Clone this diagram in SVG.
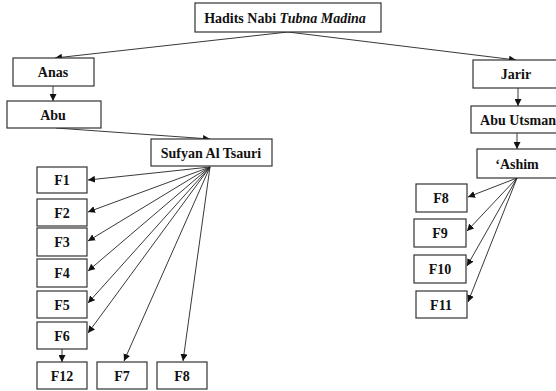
<svg xmlns="http://www.w3.org/2000/svg" width="556" height="391" viewBox="0 0 556 391">
<defs>
<marker id="ah" viewBox="0 0 10 10" refX="10" refY="5" markerWidth="7" markerHeight="7" markerUnits="userSpaceOnUse" orient="auto">
<path d="M0,0 L10,5 L0,10 z" fill="#111"/>
</marker>
<style>
.box{fill:#fff;stroke:#333;stroke-width:1.2}
.t{font-family:"Liberation Serif","Times New Roman",serif;font-weight:bold;font-size:14px;fill:#111;text-anchor:middle}
.c line{stroke:#222;stroke-width:0.9;marker-end:url(#ah)}
</style>
</defs>
<rect width="556" height="391" fill="#fff"/>
<g class="c">
<line x1="288" y1="32" x2="55" y2="58"/>
<line x1="288" y1="32" x2="516" y2="60"/>
<line x1="53" y1="86" x2="53" y2="101"/>
<line x1="56" y1="128" x2="210" y2="139"/>
<line x1="210" y1="167" x2="88" y2="180"/>
<line x1="210" y1="167" x2="88" y2="212"/>
<line x1="210" y1="167" x2="88" y2="241"/>
<line x1="210" y1="167" x2="88" y2="271"/>
<line x1="210" y1="167" x2="88" y2="303"/>
<line x1="210" y1="167" x2="88" y2="333"/>
<line x1="210" y1="167" x2="124" y2="361"/>
<line x1="210" y1="167" x2="183" y2="361"/>
<line x1="62" y1="349" x2="62" y2="362"/>
<line x1="518" y1="88" x2="518" y2="106"/>
<line x1="517" y1="133" x2="517" y2="149"/>
<line x1="517" y1="178" x2="468" y2="197"/>
<line x1="517" y1="178" x2="467" y2="231"/>
<line x1="517" y1="178" x2="467" y2="266"/>
<line x1="517" y1="178" x2="468" y2="302"/>
</g>
<g id="hadits"><rect class="box" x="195" y="3" width="186" height="29"/><text class="t" x="285" y="22.5">Hadits Nabi <tspan font-style="italic">Tubna Madina</tspan></text></g>
<g id="anas"><rect class="box" x="13" y="58" width="81" height="28"/><text class="t" x="53" y="77">Anas</text></g>
<g id="abu"><rect class="box" x="7" y="101" width="94" height="27"/><text class="t" x="53" y="119.5">Abu</text></g>
<g id="sufyan"><rect class="box" x="151" y="139" width="121" height="27"/><text class="t" x="211" y="157.5">Sufyan Al Tsauri</text></g>
<g id="f1"><rect class="box" x="37" y="167" width="50" height="26"/><text class="t" x="62" y="185">F1</text></g>
<g id="f2"><rect class="box" x="37" y="199" width="50" height="27"/><text class="t" x="62" y="217.5">F2</text></g>
<g id="f3"><rect class="box" x="37" y="228" width="50" height="28"/><text class="t" x="62" y="247">F3</text></g>
<g id="f4"><rect class="box" x="37" y="259" width="50" height="28"/><text class="t" x="62" y="278">F4</text></g>
<g id="f5"><rect class="box" x="37" y="291" width="50" height="27"/><text class="t" x="62" y="309.5">F5</text></g>
<g id="f6"><rect class="box" x="37" y="322" width="50" height="27"/><text class="t" x="62" y="340.5">F6</text></g>
<g id="f12"><rect class="box" x="37" y="362" width="50" height="27"/><text class="t" x="62" y="380.5">F12</text></g>
<g id="f7"><rect class="box" x="97" y="362" width="50" height="27"/><text class="t" x="122" y="380.5">F7</text></g>
<g id="f8a"><rect class="box" x="157" y="362" width="50" height="27"/><text class="t" x="182" y="380.5">F8</text></g>
<g id="jarir"><rect class="box" x="473" y="60" width="88" height="28"/><text class="t" x="516" y="79">Jarir</text></g>
<g id="abuutsman"><rect class="box" x="471" y="106" width="94" height="27"/><text class="t" x="518" y="124.5">Abu Utsman</text></g>
<g id="ashim"><rect class="box" x="477" y="149" width="82" height="29"/><text class="t" x="517" y="168.5">‘Ashim</text></g>
<g id="f8b"><rect class="box" x="416" y="184" width="51" height="28"/><text class="t" x="441" y="203">F8</text></g>
<g id="f9"><rect class="box" x="414" y="219" width="52" height="28"/><text class="t" x="440" y="238">F9</text></g>
<g id="f10"><rect class="box" x="414" y="255" width="52" height="28"/><text class="t" x="440" y="274">F10</text></g>
<g id="f11"><rect class="box" x="416" y="291" width="51" height="27"/><text class="t" x="441" y="309.5">F11</text></g>
</svg>
